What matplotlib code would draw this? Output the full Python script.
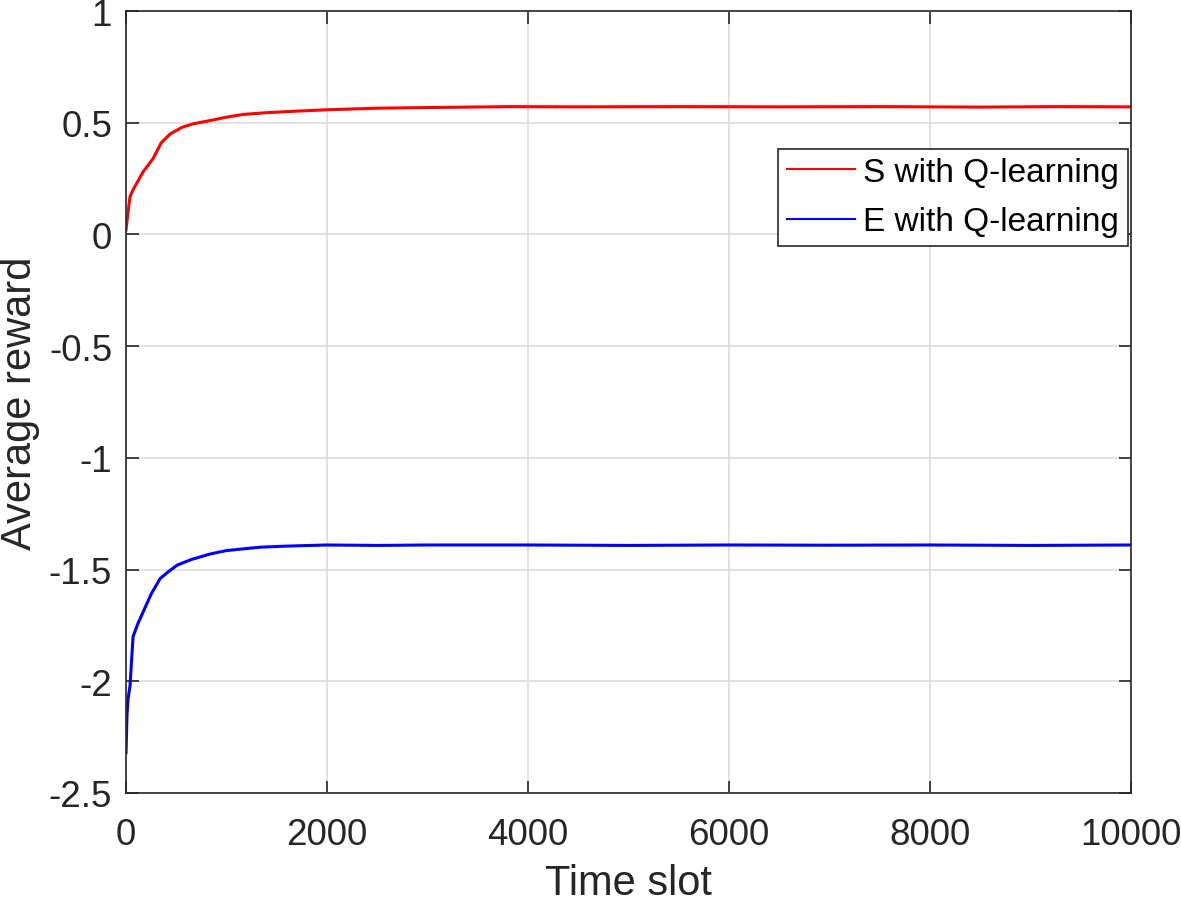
import matplotlib
matplotlib.use("Agg")
import matplotlib.pyplot as plt
from matplotlib.ticker import FuncFormatter

# values
time_s = [0, 20, 40, 70, 120, 170, 270, 350, 440, 560, 667, 840, 1000, 1164, 1400,
          1700, 2000, 2500, 3000, 3820, 4500, 5500, 6500, 7500, 8500, 9300, 10000]
reward_s = [0.02, 0.10, 0.17, 0.20, 0.24, 0.28, 0.34, 0.41, 0.45, 0.48, 0.495, 0.51,
            0.525, 0.537, 0.545, 0.552, 0.558, 0.565, 0.568, 0.572, 0.571, 0.572,
            0.571, 0.572, 0.570, 0.572, 0.571]

time_e = [0, 10, 20, 40, 70, 120, 170, 250, 340, 420, 510, 650, 840, 1000, 1330,
          1600, 2000, 2500, 3000, 4000, 5000, 6000, 7000, 8000, 9000, 10000]
reward_e = [-2.32, -2.15, -2.08, -2.02, -1.80, -1.74, -1.69, -1.61, -1.54, -1.51,
            -1.48, -1.455, -1.43, -1.415, -1.40, -1.395, -1.39, -1.392, -1.39,
            -1.39, -1.392, -1.39, -1.391, -1.39, -1.392, -1.39]

labels = ["S with Q-learning", "E with Q-learning"]

plt.rcParams['font.family'] = ['Liberation Sans', 'DejaVu Sans']
plt.rcParams['axes.unicode_minus'] = False

fig = plt.figure(figsize=(11.81, 9.04), dpi=100)
ax = fig.add_axes([0.1067, 0.1217, 0.851, 0.865])

ax.plot(time_s, reward_s, color='red', lw=2.2, label=labels[0])
ax.plot(time_e, reward_e, color='blue', lw=2.2, label=labels[1])

ax.set_xlim(0, 10000)
ax.set_ylim(-2.5, 1)
ax.set_xticks([0, 2000, 4000, 6000, 8000, 10000])
ax.set_yticks([-2.5, -2, -1.5, -1, -0.5, 0, 0.5, 1])
ax.yaxis.set_major_formatter(FuncFormatter(lambda v, p: '%g' % v))

ax.grid(True, color='#dcdcdc', lw=1.2)
ax.set_axisbelow(True)
ax.tick_params(direction='in', length=9, width=1.2, labelsize=26.5, colors='#262626',
               top=True, right=True, pad=10)
ax.tick_params(axis='x', pad=17)
for sp in ax.spines.values():
    sp.set_color('#262626')
    sp.set_linewidth(1.2)

ax.set_xlabel("Time slot", fontsize=30, color='#262626', labelpad=8)
ax.set_ylabel("Average reward", fontsize=30, color='#262626', labelpad=6)

leg = ax.legend(loc='upper right', bbox_to_anchor=(0.9965, 0.824), fontsize=24,
                fancybox=False, framealpha=1, edgecolor='#262626',
                handlelength=2.05, borderpad=0.25, labelspacing=0.55,
                handletextpad=0.25, borderaxespad=0)
leg.get_frame().set_linewidth(1.2)
for h in leg.get_lines():
    h.set_linewidth(1.5)

fig.savefig("out.png", dpi=100)
